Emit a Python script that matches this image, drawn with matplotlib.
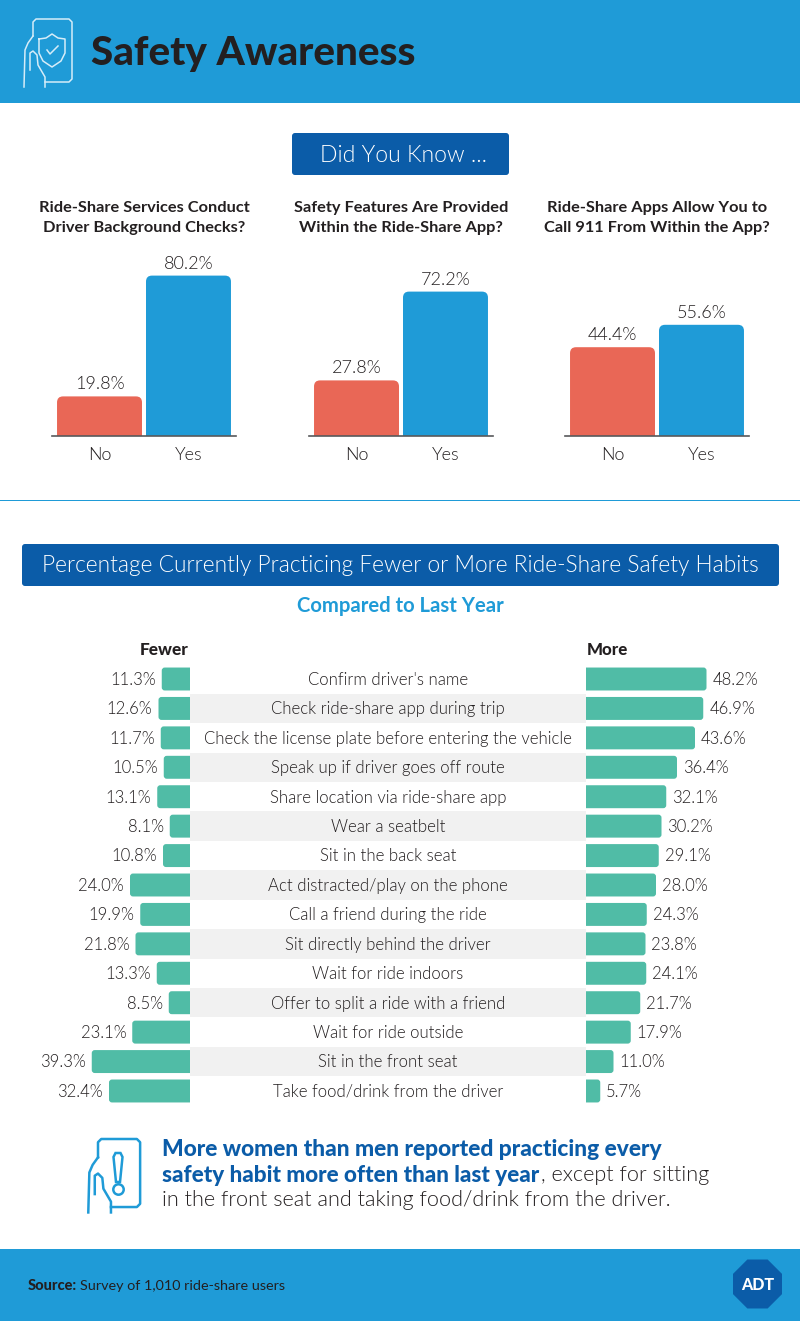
import numpy as np
import matplotlib
matplotlib.use("Agg")
import matplotlib.pyplot as plt
from matplotlib.patches import Rectangle, FancyBboxPatch, Polygon

# top charts
questions = ["Ride-Share Services Conduct\nDriver Background Checks?",
             "Safety Features Are Provided\nWithin the Ride-Share App?",
             "Ride-Share Apps Allow You to\nCall 911 From Within the App?"]
answers = ["No", "Yes"]
no_vals = [19.8, 27.8, 44.4]
yes_vals = [80.2, 72.2, 55.6]

# habits table
habits = ["Confirm driver's name", "Check ride-share app during trip",
          "Check the license plate before entering the vehicle",
          "Speak up if driver goes off route", "Share location via ride-share app",
          "Wear a seatbelt", "Sit in the back seat", "Act distracted/play on the phone",
          "Call a friend during the ride", "Sit directly behind the driver",
          "Wait for ride indoors", "Offer to split a ride with a friend",
          "Wait for ride outside", "Sit in the front seat", "Take food/drink from the driver"]
fewer = [11.3, 12.6, 11.7, 10.5, 13.1, 8.1, 10.8, 24.0, 19.9, 21.8, 13.3, 8.5, 23.1, 39.3, 32.4]
more = [48.2, 46.9, 43.6, 36.4, 32.1, 30.2, 29.1, 28.0, 24.3, 23.8, 24.1, 21.7, 17.9, 11.0, 5.7]

BLUE = "#1f9bd7"
DARK = "#0b5ca8"
RED = "#e96756"
TEAL = "#50bca6"
GREY = "#f1f1f1"
INK = "#231f20"
LIGHT = 300

W, H = 800, 1321
plt.rcParams["font.family"] = ["Lato", "DejaVu Sans"]
fig = plt.figure(figsize=(W / 100, H / 100), dpi=100)


def px_axes(x0, y0, x1, y1):
    # axes placed by pixel box, y measured from the top
    return fig.add_axes([x0 / W, 1 - y1 / H, (x1 - x0) / W, (y1 - y0) / H])


bg = fig.add_axes([0, 0, 1, 1], zorder=0)
bg.set_xlim(0, W)
bg.set_ylim(H, 0)
bg.axis("off")

# bands and boxes
bg.add_patch(Rectangle((0, 0), W, 103, color=BLUE, lw=0))
bg.add_patch(Rectangle((0, 1249), W, 72, color=BLUE, lw=0))
bg.add_patch(Rectangle((0, 500), W, 1, color=BLUE, lw=0))
bg.add_patch(FancyBboxPatch((295, 136), 211, 36, boxstyle="round,pad=3", color=DARK, lw=0))
bg.add_patch(FancyBboxPatch((25, 547), 751, 36, boxstyle="round,pad=3", color=DARK, lw=0))

bg.text(91, 53, "Safety Awareness", fontsize=29.1, fontweight="black", color=INK, va="center")
bg.text(404, 155, "Did You Know ...", fontsize=16.6, fontweight=LIGHT, color="white", ha="center", va="center")
bg.text(400, 566, "Percentage Currently Practicing Fewer or More Ride-Share Safety Habits",
        fontsize=16.4, fontweight=LIGHT, color="white", ha="center", va="center")
bg.text(400, 606, "Compared to Last Year", fontsize=14.6, fontweight="bold", color=BLUE, ha="center", va="center")
bg.text(189, 650, "Fewer", fontsize=12.4, fontweight="black", color=INK, ha="right", va="center")
bg.text(587, 650, "More", fontsize=12.2, fontweight="black", color=INK, ha="left", va="center")

# callout
bg.text(162, 1150, "More women than men reported practicing every", fontsize=16.4, fontweight="black",
        color=DARK, va="center")
bg.text(162, 1175, "safety habit more often than last year", fontsize=16.2, fontweight="black",
        color=DARK, va="center")
bg.text(541, 1175, ", except for sitting", fontsize=15.6, fontweight=LIGHT, color=INK, va="center")
bg.text(162, 1200, "in the front seat and taking food/drink from the driver.", fontsize=15.6,
        fontweight=LIGHT, color=INK, va="center")

# footer
bg.text(28, 1286, "Source:", fontsize=10.5, fontweight="black", color=INK, va="center")
bg.text(80, 1286, "Survey of 1,010 ride-share users", fontsize=10.4, color=INK, va="center")
t = np.deg2rad(np.arange(22.5, 360, 45))
bg.add_patch(Polygon(np.c_[757.5 + 26.5 * np.cos(t), 1284 + 26.5 * np.sin(t)], color=DARK, lw=0))
bg.text(757.5, 1285, "ADT", fontsize=11.5, fontweight="black", color="white", ha="center", va="center")


def phone_icon(x, y, color, lw, s=1.0):
    # phone outline and hand, x/y is the phone's top left corner
    outline = np.array([[0, 17], [0, 3], [3, 0], [36, 0], [39, 3], [39, 60], [36, 63], [12, 63]]) * s
    hand = np.array([[0, 17], [-5, 24], [-8, 31], [-9, 68]]) * s
    fing = np.array([[-3, 51], [-3, 34], [0, 32], [4, 36], [5, 46], [12, 58], [12, 68]]) * s
    for p in [outline, hand, fing]:
        bg.plot(x + p[:, 0], y + p[:, 1], color=color, lw=lw, solid_joinstyle="round")


phone_icon(33, 19, "#d5ecf8", 1.1)
shield = np.array([[0, 0], [7, -1], [13, -5], [19, -1], [26, 0], [26, 14], [22, 22], [13, 28], [4, 22], [0, 14], [0, 0]])
bg.plot(39 + shield[:, 0], 39 + shield[:, 1], color="#d5ecf8", lw=1.1)
bg.plot([47, 50, 58], [50, 54, 46], color="#d5ecf8", lw=1.1)

phone_icon(98, 1139, BLUE, 1.8, 1.08)
bg.add_patch(Polygon([[115.5, 1153], [120.5, 1153], [122.5, 1157], [120, 1182], [116, 1182], [113.5, 1157]],
                     fc="none", ec=BLUE, lw=1.8))
bg.plot([118], [1189], "o", ms=7.5, mfc="none", mec=BLUE, mew=1.8)


def rounded(bar, ax, r_x, r_y, horizontal=False):
    # swaps a bar for a rounded box, the base end hangs past the axes and gets clipped
    x, y, w, h = bar.get_x(), bar.get_y(), bar.get_width(), bar.get_height()
    if horizontal:
        x, w = x - 5, w + 5
    else:
        y, h = y - 5, h + 5
    box = FancyBboxPatch((x + r_x, y + r_y), w - 2 * r_x, h - 2 * r_y,
                         boxstyle=f"round,pad={r_x},rounding_size={r_x}",
                         mutation_aspect=r_y / r_x, fc=bar.get_facecolor(), lw=0)
    ax.add_patch(box)
    bar.set_visible(False)


# Did You Know charts
chart_x = [52, 309, 565]
for q, n, y, x0 in zip(questions, no_vals, yes_vals, chart_x):
    ax = px_axes(x0, 260, x0 + 184, 436)
    ax.patch.set_alpha(0)
    ax.set_xlim(-0.534, 1.534)
    ax.set_ylim(0, 88)
    bars = ax.bar([0, 1], [n, y], width=0.955, color=[RED, BLUE], lw=0)
    for b, v in zip(bars, [n, y]):
        rounded(b, ax, 6 / 89, 6 / 2)
        ax.text(b.get_x() + b.get_width() / 2, v + 2, f"{v:.1f}%", ha="center", va="bottom",
                fontsize=13, fontweight=LIGHT, color=INK)
    ax.set_xticks([0, 1], answers, fontsize=13, fontweight=LIGHT, color=INK)
    ax.tick_params(axis="x", length=0, pad=8)
    ax.set_yticks([])
    for s in ["top", "left", "right"]:
        ax.spines[s].set_visible(False)
    ax.spines["bottom"].set_color("#58595b")
    ax.spines["bottom"].set_linewidth(1.2)
    bg.text(x0 + 92, 218, q, fontsize=11.8, fontweight="bold", color=INK, ha="center", va="center",
            linespacing=1.5)

# habits chart
rows = np.arange(len(habits))
left = px_axes(40, 664.3, 190, 1105.7)
mid = px_axes(190, 664.3, 586, 1105.7)
right = px_axes(586, 664.3, 786, 1105.7)
for ax in [left, mid, right]:
    ax.axis("off")
    ax.set_ylim(14.5, -0.5)
    ax.patch.set_alpha(0)
left.set_xlim(60, 0)
right.set_xlim(0, 80)
mid.set_xlim(0, 1)

for i in rows[1::2]:
    mid.barh(i, 1, height=1, color=GREY, lw=0)
for i, h in zip(rows, habits):
    mid.text(0.5, i + 0.03, h, ha="center", va="center", fontsize=12.1, fontweight=LIGHT, color=INK)

for b, v in zip(left.barh(rows, fewer, height=0.78, color=TEAL, lw=0), fewer):
    rounded(b, left, 3 / 2.5, 3 / 29.43, True)
    left.text(v + 2.4, b.get_y() + b.get_height() / 2 + 0.03, f"{v:.1f}%", ha="right", va="center",
              fontsize=12, fontweight=LIGHT, color=INK)
for b, v in zip(right.barh(rows, more, height=0.78, color=TEAL, lw=0), more):
    rounded(b, right, 3 / 2.5, 3 / 29.43, True)
    right.text(v + 2.4, b.get_y() + b.get_height() / 2 + 0.03, f"{v:.1f}%", ha="left", va="center",
               fontsize=12, fontweight=LIGHT, color=INK)

fig.savefig("out.png", dpi=100)
